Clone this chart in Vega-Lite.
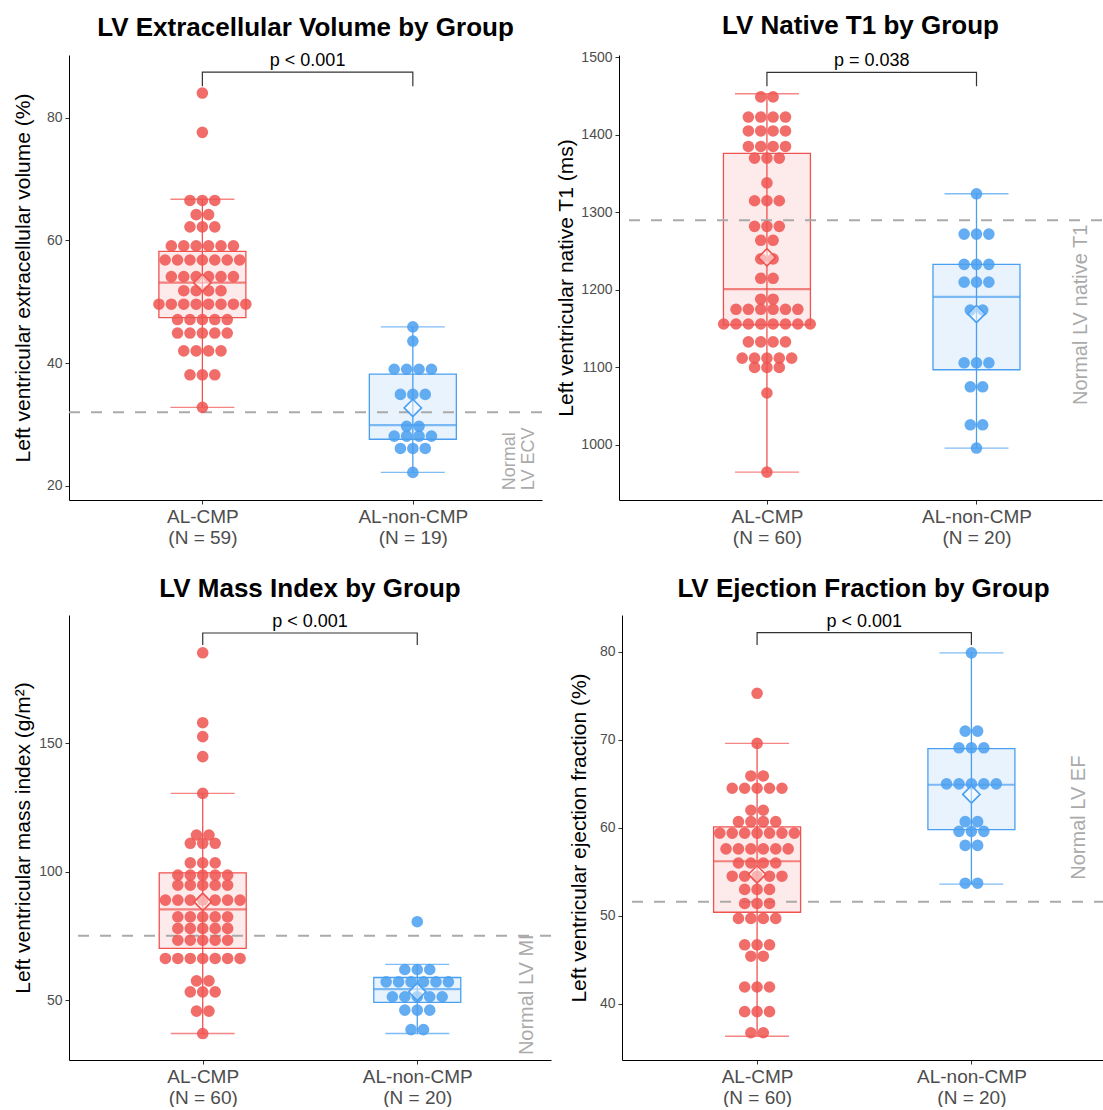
{
"$schema": "https://vega.github.io/schema/vega-lite/v6.json",
"padding": {"left": 12, "top": 13, "right": 0, "bottom": 0},
"config": {
  "view": {"stroke": null},
  "font": "Liberation Sans",
  "axis": {"grid": false, "domainColor": "#000000", "tickColor": "#333333", "labelColor": "#4D4D4D", "titleColor": "#000000", "titleFontWeight": "normal", "labelFontSize": 14, "titleFontSize": 21, "tickSize": 4, "domainWidth": 1, "labelPadding": 3, "titlePadding": 8, "format": "d"},
  "title": {"fontSize": 26, "fontWeight": "bold", "anchor": "middle", "color": "#000000", "offset": 11}
},
"datasets": {
  "p1dots": [
    {"g":1,"v":84},{"g":1,"v":77.6},
    {"g":1,"v":66.5},{"g":1,"v":66.5},{"g":1,"v":66.5},
    {"g":1,"v":64.2},{"g":1,"v":64.2},
    {"g":1,"v":62.2},{"g":1,"v":62.2},{"g":1,"v":62.2},
    {"g":1,"v":59.1},{"g":1,"v":59.1},{"g":1,"v":59.1},{"g":1,"v":59.1},{"g":1,"v":59.1},{"g":1,"v":59.1},
    {"g":1,"v":56.8},{"g":1,"v":56.8},{"g":1,"v":56.8},{"g":1,"v":56.8},{"g":1,"v":56.8},{"g":1,"v":56.8},{"g":1,"v":56.8},
    {"g":1,"v":54.1},{"g":1,"v":54.1},{"g":1,"v":54.1},{"g":1,"v":54.1},{"g":1,"v":54.1},{"g":1,"v":54.1},
    {"g":1,"v":51.8},{"g":1,"v":51.8},{"g":1,"v":51.8},{"g":1,"v":51.8},
    {"g":1,"v":49.6},{"g":1,"v":49.6},{"g":1,"v":49.6},{"g":1,"v":49.6},{"g":1,"v":49.6},{"g":1,"v":49.6},{"g":1,"v":49.6},{"g":1,"v":49.6},
    {"g":1,"v":47.1},{"g":1,"v":47.1},{"g":1,"v":47.1},{"g":1,"v":47.1},{"g":1,"v":47.1},
    {"g":1,"v":44.9},{"g":1,"v":44.9},{"g":1,"v":44.9},{"g":1,"v":44.9},{"g":1,"v":44.9},
    {"g":1,"v":42.0},{"g":1,"v":42.0},{"g":1,"v":42.0},{"g":1,"v":42.0},
    {"g":1,"v":38.1},{"g":1,"v":38.1},{"g":1,"v":38.1},
    {"g":1,"v":32.8},
    {"g":2,"v":45.9},{"g":2,"v":43.6},
    {"g":2,"v":39.0},{"g":2,"v":39.0},{"g":2,"v":39.0},{"g":2,"v":39.0},
    {"g":2,"v":34.9},{"g":2,"v":34.9},{"g":2,"v":34.9},
    {"g":2,"v":29.7},{"g":2,"v":29.7},
    {"g":2,"v":28.1},{"g":2,"v":28.1},{"g":2,"v":28.1},{"g":2,"v":28.1},
    {"g":2,"v":26.1},{"g":2,"v":26.1},{"g":2,"v":26.1},
    {"g":2,"v":22.2}
  ],
  "p1sum": [
    {"g":1,"lo":32.8,"q1":47.4,"med":53.1,"q3":58.2,"hi":66.7,"mean":53.1},
    {"g":2,"lo":22.2,"q1":27.6,"med":29.9,"q3":38.2,"hi":45.9,"mean":32.7}
  ],
  "p1ref": [{"ref": 32}],
  "p1br": [{"x":1,"y":85.1,"o":1},{"x":1,"y":87.4,"o":2},{"x":2,"y":87.4,"o":3},{"x":2,"y":85.1,"o":4}],
  "p1lab": [{"x":1.5,"y":87.4,"t":"p < 0.001"}],
  "p1note": [{"x":2.46,"y":19.3,"t":"Normal\nLV ECV"}],

  "p2dots": [
    {"g":1,"v":1449},{"g":1,"v":1449},
    {"g":1,"v":1423},{"g":1,"v":1423},{"g":1,"v":1423},{"g":1,"v":1423},
    {"g":1,"v":1405},{"g":1,"v":1405},{"g":1,"v":1405},{"g":1,"v":1405},
    {"g":1,"v":1385},{"g":1,"v":1385},{"g":1,"v":1385},{"g":1,"v":1385},
    {"g":1,"v":1370},{"g":1,"v":1370},{"g":1,"v":1370},
    {"g":1,"v":1338},
    {"g":1,"v":1315},{"g":1,"v":1315},{"g":1,"v":1315},
    {"g":1,"v":1282},{"g":1,"v":1282},{"g":1,"v":1282},
    {"g":1,"v":1264},{"g":1,"v":1264},
    {"g":1,"v":1240},{"g":1,"v":1240},
    {"g":1,"v":1215},{"g":1,"v":1215},
    {"g":1,"v":1188},{"g":1,"v":1188},
    {"g":1,"v":1175},{"g":1,"v":1175},{"g":1,"v":1175},{"g":1,"v":1175},{"g":1,"v":1175},{"g":1,"v":1175},
    {"g":1,"v":1156},{"g":1,"v":1156},{"g":1,"v":1156},{"g":1,"v":1156},{"g":1,"v":1156},{"g":1,"v":1156},{"g":1,"v":1156},{"g":1,"v":1156},
    {"g":1,"v":1133},{"g":1,"v":1133},{"g":1,"v":1133},{"g":1,"v":1133},
    {"g":1,"v":1112},{"g":1,"v":1112},{"g":1,"v":1112},{"g":1,"v":1112},{"g":1,"v":1112},
    {"g":1,"v":1100},{"g":1,"v":1100},{"g":1,"v":1100},
    {"g":1,"v":1067},
    {"g":1,"v":965},
    {"g":2,"v":1324},
    {"g":2,"v":1272},{"g":2,"v":1272},{"g":2,"v":1272},
    {"g":2,"v":1233},{"g":2,"v":1233},{"g":2,"v":1233},
    {"g":2,"v":1210},{"g":2,"v":1210},{"g":2,"v":1210},
    {"g":2,"v":1174},{"g":2,"v":1174},
    {"g":2,"v":1106},{"g":2,"v":1106},{"g":2,"v":1106},
    {"g":2,"v":1075},{"g":2,"v":1075},
    {"g":2,"v":1026},{"g":2,"v":1026},
    {"g":2,"v":996}
  ],
  "p2sum": [
    {"g":1,"lo":965,"q1":1155,"med":1201,"q3":1376,"hi":1453,"mean":1242},
    {"g":2,"lo":996,"q1":1097,"med":1191,"q3":1233,"hi":1324,"mean":1169}
  ],
  "p2ref": [{"ref": 1290}],
  "p2br": [{"x":1,"y":1462.6,"o":1},{"x":1,"y":1480.7,"o":2},{"x":2,"y":1480.7,"o":3},{"x":2,"y":1462.6,"o":4}],
  "p2lab": [{"x":1.5,"y":1480.7,"t":"p = 0.038"}],
  "p2note": [{"x":2.5,"y":1051.5,"t":"Normal LV native T1"}],

  "p3dots": [
    {"g":1,"v":185.1},{"g":1,"v":157.9},{"g":1,"v":152.5},{"g":1,"v":144.7},{"g":1,"v":130.4},
    {"g":1,"v":114.2},{"g":1,"v":114.2},
    {"g":1,"v":111},{"g":1,"v":111},{"g":1,"v":111},
    {"g":1,"v":103.4},{"g":1,"v":103.4},{"g":1,"v":103.4},
    {"g":1,"v":98.6},{"g":1,"v":98.6},{"g":1,"v":98.6},{"g":1,"v":98.6},{"g":1,"v":98.6},
    {"g":1,"v":94.7},{"g":1,"v":94.7},{"g":1,"v":94.7},{"g":1,"v":94.7},{"g":1,"v":94.7},
    {"g":1,"v":88.9},{"g":1,"v":88.9},{"g":1,"v":88.9},{"g":1,"v":88.9},{"g":1,"v":88.9},{"g":1,"v":88.9},{"g":1,"v":88.9},
    {"g":1,"v":82.4},{"g":1,"v":82.4},{"g":1,"v":82.4},{"g":1,"v":82.4},{"g":1,"v":82.4},
    {"g":1,"v":77.9},{"g":1,"v":77.9},{"g":1,"v":77.9},{"g":1,"v":77.9},{"g":1,"v":77.9},
    {"g":1,"v":73.3},{"g":1,"v":73.3},{"g":1,"v":73.3},{"g":1,"v":73.3},{"g":1,"v":73.3},
    {"g":1,"v":66.2},{"g":1,"v":66.2},{"g":1,"v":66.2},{"g":1,"v":66.2},{"g":1,"v":66.2},{"g":1,"v":66.2},{"g":1,"v":66.2},
    {"g":1,"v":57.5},{"g":1,"v":57.5},
    {"g":1,"v":53.2},{"g":1,"v":53.2},{"g":1,"v":53.2},
    {"g":1,"v":45.7},{"g":1,"v":45.7},
    {"g":1,"v":37.0},
    {"g":2,"v":80.5},
    {"g":2,"v":61.9},{"g":2,"v":61.9},{"g":2,"v":61.9},
    {"g":2,"v":57.1},{"g":2,"v":57.1},{"g":2,"v":57.1},{"g":2,"v":57.1},{"g":2,"v":57.1},{"g":2,"v":57.1},
    {"g":2,"v":51.3},{"g":2,"v":51.3},{"g":2,"v":51.3},{"g":2,"v":51.3},{"g":2,"v":51.3},
    {"g":2,"v":46.1},{"g":2,"v":46.1},{"g":2,"v":46.1},
    {"g":2,"v":38.5},{"g":2,"v":38.5}
  ],
  "p3sum": [
    {"g":1,"lo":37.0,"q1":70.1,"med":85.3,"q3":99.5,"hi":130.4,"mean":88.2},
    {"g":2,"lo":37.0,"q1":49.1,"med":54.3,"q3":58.8,"hi":63.9,"mean":53.2}
  ],
  "p3ref": [{"ref": 75}],
  "p3br": [{"x":1,"y":188.1,"o":1},{"x":1,"y":192.8,"o":2},{"x":2,"y":192.8,"o":3},{"x":2,"y":188.1,"o":4}],
  "p3lab": [{"x":1.5,"y":192.8,"t":"p < 0.001"}],
  "p3note": [{"x":2.51,"y":28.6,"t":"Normal LV MI"}],

  "p4dots": [
    {"g":1,"v":75.3},{"g":1,"v":69.6},
    {"g":1,"v":65.9},{"g":1,"v":65.9},
    {"g":1,"v":64.5},{"g":1,"v":64.5},{"g":1,"v":64.5},{"g":1,"v":64.5},{"g":1,"v":64.5},
    {"g":1,"v":62.0},{"g":1,"v":62.0},
    {"g":1,"v":60.7},{"g":1,"v":60.7},{"g":1,"v":60.7},{"g":1,"v":60.7},
    {"g":1,"v":59.4},{"g":1,"v":59.4},{"g":1,"v":59.4},{"g":1,"v":59.4},{"g":1,"v":59.4},{"g":1,"v":59.4},{"g":1,"v":59.4},
    {"g":1,"v":57.6},{"g":1,"v":57.6},{"g":1,"v":57.6},{"g":1,"v":57.6},{"g":1,"v":57.6},{"g":1,"v":57.6},
    {"g":1,"v":56.0},{"g":1,"v":56.0},{"g":1,"v":56.0},{"g":1,"v":56.0},
    {"g":1,"v":54.5},{"g":1,"v":54.5},{"g":1,"v":54.5},{"g":1,"v":54.5},{"g":1,"v":54.5},
    {"g":1,"v":53.0},{"g":1,"v":53.0},{"g":1,"v":53.0},
    {"g":1,"v":51.4},{"g":1,"v":51.4},{"g":1,"v":51.4},
    {"g":1,"v":49.7},{"g":1,"v":49.7},{"g":1,"v":49.7},{"g":1,"v":49.7},
    {"g":1,"v":46.7},{"g":1,"v":46.7},{"g":1,"v":46.7},
    {"g":1,"v":45.4},{"g":1,"v":45.4},
    {"g":1,"v":41.9},{"g":1,"v":41.9},{"g":1,"v":41.9},
    {"g":1,"v":39.1},{"g":1,"v":39.1},{"g":1,"v":39.1},
    {"g":1,"v":36.7},{"g":1,"v":36.7},
    {"g":2,"v":79.9},
    {"g":2,"v":71.0},{"g":2,"v":71.0},
    {"g":2,"v":69.1},{"g":2,"v":69.1},{"g":2,"v":69.1},
    {"g":2,"v":65.0},{"g":2,"v":65.0},{"g":2,"v":65.0},{"g":2,"v":65.0},{"g":2,"v":65.0},
    {"g":2,"v":60.7},{"g":2,"v":60.7},
    {"g":2,"v":59.6},{"g":2,"v":59.6},{"g":2,"v":59.6},
    {"g":2,"v":58.0},{"g":2,"v":58.0},
    {"g":2,"v":53.7},{"g":2,"v":53.7}
  ],
  "p4sum": [
    {"g":1,"lo":36.3,"q1":50.4,"med":56.2,"q3":60.1,"hi":69.6,"mean":54.7},
    {"g":2,"lo":53.6,"q1":59.8,"med":64.9,"q3":69.0,"hi":79.9,"mean":63.8}
  ],
  "p4ref": [{"ref": 51.6}],
  "p4br": [{"x":1,"y":80.8,"o":1},{"x":1,"y":82.2,"o":2},{"x":2,"y":82.2,"o":3},{"x":2,"y":80.8,"o":4}],
  "p4lab": [{"x":1.5,"y":82.2,"t":"p < 0.001"}],
  "p4note": [{"x":2.5,"y":54.1,"t":"Normal LV EF"}]
},
"spacing": 28,
"resolve": {"scale": {"x": "independent", "y": "independent", "color": "independent"}},
"vconcat": [
{"hconcat": [
 {
  "width": 473, "height": 445,
  "title": "LV Extracellular Volume by Group",
  "layer": [
   {"data": {"name": "p1sum"}, "mark": {"type": "rule", "strokeWidth": 1.3},
    "encoding": {
      "x": {"field": "g", "type": "quantitative", "scale": {"domain": [0.39, 2.59], "nice": false, "zero": false}, "axis": {"values": [1, 2], "title": null, "labelFontSize": 19, "labelLineHeight": 21, "labelExpr": "datum.value == 1 ? ['AL-CMP', '(N = 59)'] : ['AL-non-CMP', '(N = 19)']"}},
      "y": {"field": "lo", "type": "quantitative", "title": "Left ventricular extracellular volume (%)", "scale": {"domain": [17.7, 90.2], "nice": false, "zero": false}, "axis": {"values": [20, 40, 60, 80], "titlePadding": 13}},
      "y2": {"field": "hi"},
      "color": {"field": "g", "type": "nominal", "scale": {"domain": [1, 2], "range": ["#EF5350", "#4A9FF0"]}, "legend": null}}},
   {"data": {"name": "p1sum"}, "mark": {"type": "tick", "orient": "horizontal", "size": 64, "thickness": 1.3},
    "encoding": {"x": {"field": "g", "type": "quantitative"}, "y": {"field": "hi", "type": "quantitative", "title": "Left ventricular extracellular volume (%)"}, "color": {"field": "g", "type": "nominal", "legend": null}}},
   {"data": {"name": "p1sum"}, "mark": {"type": "tick", "orient": "horizontal", "size": 64, "thickness": 1.3},
    "encoding": {"x": {"field": "g", "type": "quantitative"}, "y": {"field": "lo", "type": "quantitative", "title": "Left ventricular extracellular volume (%)"}, "color": {"field": "g", "type": "nominal", "legend": null}}},
   {"data": {"name": "p1sum"}, "mark": {"type": "bar", "size": 87, "fillOpacity": 0.12, "strokeWidth": 1.3},
    "encoding": {"x": {"field": "g", "type": "quantitative"}, "y": {"field": "q1", "type": "quantitative", "title": "Left ventricular extracellular volume (%)"}, "y2": {"field": "q3"}, "fill": {"field": "g", "type": "nominal", "scale": {"domain": [1, 2], "range": ["#EF5350", "#4A9FF0"]}, "legend": null}, "stroke": {"field": "g", "type": "nominal", "scale": {"domain": [1, 2], "range": ["#EF5350", "#4A9FF0"]}, "legend": null}}},
   {"data": {"name": "p1sum"}, "mark": {"type": "tick", "orient": "horizontal", "size": 87, "thickness": 2.2},
    "encoding": {"x": {"field": "g", "type": "quantitative"}, "y": {"field": "med", "type": "quantitative", "title": "Left ventricular extracellular volume (%)"}, "color": {"field": "g", "type": "nominal", "legend": null}}},
   {"data": {"name": "p1ref"}, "mark": {"type": "rule", "color": "#AAAAAA", "strokeWidth": 2, "strokeDash": [11, 11]},
    "encoding": {"y": {"field": "ref", "type": "quantitative", "title": "Left ventricular extracellular volume (%)"}}},
   {"data": {"name": "p1dots"},
    "transform": [
      {"window": [{"op": "row_number", "as": "k"}], "groupby": ["g", "v"]},
      {"joinaggregate": [{"op": "count", "as": "n"}], "groupby": ["g", "v"]},
      {"calculate": "datum.g + (datum.k - (datum.n + 1) / 2) * 0.059", "as": "xo"}],
    "mark": {"type": "circle", "size": 135, "opacity": 0.85},
    "encoding": {"x": {"field": "xo", "type": "quantitative"}, "y": {"field": "v", "type": "quantitative", "title": "Left ventricular extracellular volume (%)"}, "color": {"field": "g", "type": "nominal", "legend": null}}},
   {"data": {"name": "p1sum"}, "mark": {"type": "point", "shape": "diamond", "size": 300, "filled": false, "fill": "white", "fillOpacity": 0.5, "strokeWidth": 1.6, "opacity": 1},
    "encoding": {"x": {"field": "g", "type": "quantitative"}, "y": {"field": "mean", "type": "quantitative", "title": "Left ventricular extracellular volume (%)"}, "stroke": {"field": "g", "type": "nominal", "legend": null}}},
   {"data": {"name": "p1br"}, "mark": {"type": "line", "color": "#333333", "strokeWidth": 1.2},
    "encoding": {"x": {"field": "x", "type": "quantitative"}, "y": {"field": "y", "type": "quantitative", "title": "Left ventricular extracellular volume (%)"}, "order": {"field": "o"}}},
   {"data": {"name": "p1lab"}, "mark": {"type": "text", "fontSize": 18, "baseline": "bottom", "dy": -2, "color": "#000000"},
    "encoding": {"x": {"field": "x", "type": "quantitative"}, "y": {"field": "y", "type": "quantitative", "title": "Left ventricular extracellular volume (%)"}, "text": {"field": "t"}}},
   {"data": {"name": "p1note"}, "mark": {"type": "text", "fontSize": 18, "angle": 270, "align": "left", "baseline": "middle", "color": "#AAAAAA", "lineBreak": "\n", "lineHeight": 19},
    "encoding": {"x": {"field": "x", "type": "quantitative"}, "y": {"field": "y", "type": "quantitative", "title": "Left ventricular extracellular volume (%)"}, "text": {"field": "t"}}}
  ]
 },
 {
  "width": 483, "height": 445,
  "title": "LV Native T1 by Group",
  "layer": [
   {"data": {"name": "p2sum"}, "mark": {"type": "rule", "strokeWidth": 1.3},
    "encoding": {
      "x": {"field": "g", "type": "quantitative", "scale": {"domain": [0.318, 2.575], "nice": false, "zero": false}, "axis": {"values": [1, 2], "title": null, "labelFontSize": 19, "labelLineHeight": 21, "labelExpr": "datum.value == 1 ? ['AL-CMP', '(N = 60)'] : ['AL-non-CMP', '(N = 20)']"}},
      "y": {"field": "lo", "type": "quantitative", "title": "Left ventricular native T1 (ms)", "scale": {"domain": [929, 1503], "nice": false, "zero": false}, "axis": {"values": [1000, 1100, 1200, 1300, 1400, 1500], "titlePadding": 4}},
      "y2": {"field": "hi"},
      "color": {"field": "g", "type": "nominal", "scale": {"domain": [1, 2], "range": ["#EF5350", "#4A9FF0"]}, "legend": null}}},
   {"data": {"name": "p2sum"}, "mark": {"type": "tick", "orient": "horizontal", "size": 64, "thickness": 1.3},
    "encoding": {"x": {"field": "g", "type": "quantitative"}, "y": {"field": "hi", "type": "quantitative", "title": "Left ventricular native T1 (ms)"}, "color": {"field": "g", "type": "nominal", "legend": null}}},
   {"data": {"name": "p2sum"}, "mark": {"type": "tick", "orient": "horizontal", "size": 64, "thickness": 1.3},
    "encoding": {"x": {"field": "g", "type": "quantitative"}, "y": {"field": "lo", "type": "quantitative", "title": "Left ventricular native T1 (ms)"}, "color": {"field": "g", "type": "nominal", "legend": null}}},
   {"data": {"name": "p2sum"}, "mark": {"type": "bar", "size": 87, "fillOpacity": 0.12, "strokeWidth": 1.3},
    "encoding": {"x": {"field": "g", "type": "quantitative"}, "y": {"field": "q1", "type": "quantitative", "title": "Left ventricular native T1 (ms)"}, "y2": {"field": "q3"}, "fill": {"field": "g", "type": "nominal", "scale": {"domain": [1, 2], "range": ["#EF5350", "#4A9FF0"]}, "legend": null}, "stroke": {"field": "g", "type": "nominal", "scale": {"domain": [1, 2], "range": ["#EF5350", "#4A9FF0"]}, "legend": null}}},
   {"data": {"name": "p2sum"}, "mark": {"type": "tick", "orient": "horizontal", "size": 87, "thickness": 2.2},
    "encoding": {"x": {"field": "g", "type": "quantitative"}, "y": {"field": "med", "type": "quantitative", "title": "Left ventricular native T1 (ms)"}, "color": {"field": "g", "type": "nominal", "legend": null}}},
   {"data": {"name": "p2ref"}, "mark": {"type": "rule", "color": "#AAAAAA", "strokeWidth": 2, "strokeDash": [11, 11]},
    "encoding": {"y": {"field": "ref", "type": "quantitative", "title": "Left ventricular native T1 (ms)"}}},
   {"data": {"name": "p2dots"},
    "transform": [
      {"window": [{"op": "row_number", "as": "k"}], "groupby": ["g", "v"]},
      {"joinaggregate": [{"op": "count", "as": "n"}], "groupby": ["g", "v"]},
      {"calculate": "datum.g + (datum.k - (datum.n + 1) / 2) * 0.059", "as": "xo"}],
    "mark": {"type": "circle", "size": 135, "opacity": 0.85},
    "encoding": {"x": {"field": "xo", "type": "quantitative"}, "y": {"field": "v", "type": "quantitative", "title": "Left ventricular native T1 (ms)"}, "color": {"field": "g", "type": "nominal", "legend": null}}},
   {"data": {"name": "p2sum"}, "mark": {"type": "point", "shape": "diamond", "size": 300, "filled": false, "fill": "white", "fillOpacity": 0.5, "strokeWidth": 1.6, "opacity": 1},
    "encoding": {"x": {"field": "g", "type": "quantitative"}, "y": {"field": "mean", "type": "quantitative", "title": "Left ventricular native T1 (ms)"}, "stroke": {"field": "g", "type": "nominal", "legend": null}}},
   {"data": {"name": "p2br"}, "mark": {"type": "line", "color": "#333333", "strokeWidth": 1.2},
    "encoding": {"x": {"field": "x", "type": "quantitative"}, "y": {"field": "y", "type": "quantitative", "title": "Left ventricular native T1 (ms)"}, "order": {"field": "o"}}},
   {"data": {"name": "p2lab"}, "mark": {"type": "text", "fontSize": 18, "baseline": "bottom", "dy": -2, "color": "#000000"},
    "encoding": {"x": {"field": "x", "type": "quantitative"}, "y": {"field": "y", "type": "quantitative", "title": "Left ventricular native T1 (ms)"}, "text": {"field": "t"}}},
   {"data": {"name": "p2note"}, "mark": {"type": "text", "fontSize": 20, "angle": 270, "align": "left", "baseline": "middle", "color": "#AAAAAA"},
    "encoding": {"x": {"field": "x", "type": "quantitative"}, "y": {"field": "y", "type": "quantitative", "title": "Left ventricular native T1 (ms)"}, "text": {"field": "t"}}}
  ]
 }
], "spacing": 12, "resolve": {"scale": {"x": "independent", "y": "independent", "color": "independent"}}},
{"hconcat": [
 {
  "width": 482, "height": 445,
  "title": "LV Mass Index by Group",
  "layer": [
   {"data": {"name": "p3sum"}, "mark": {"type": "rule", "strokeWidth": 1.3},
    "encoding": {
      "x": {"field": "g", "type": "quantitative", "scale": {"domain": [0.4, 2.6], "nice": false, "zero": false}, "axis": {"values": [1, 2], "title": null, "labelFontSize": 19, "labelLineHeight": 21, "labelExpr": "datum.value == 1 ? ['AL-CMP', '(N = 60)'] : ['AL-non-CMP', '(N = 20)']"}},
      "y": {"field": "lo", "type": "quantitative", "title": "Left ventricular mass index (g/m²)", "scale": {"domain": [26.7, 199.8], "nice": false, "zero": false}, "axis": {"values": [50, 100, 150], "titlePadding": 5}},
      "y2": {"field": "hi"},
      "color": {"field": "g", "type": "nominal", "scale": {"domain": [1, 2], "range": ["#EF5350", "#4A9FF0"]}, "legend": null}}},
   {"data": {"name": "p3sum"}, "mark": {"type": "tick", "orient": "horizontal", "size": 64, "thickness": 1.3},
    "encoding": {"x": {"field": "g", "type": "quantitative"}, "y": {"field": "hi", "type": "quantitative", "title": "Left ventricular mass index (g/m²)"}, "color": {"field": "g", "type": "nominal", "legend": null}}},
   {"data": {"name": "p3sum"}, "mark": {"type": "tick", "orient": "horizontal", "size": 64, "thickness": 1.3},
    "encoding": {"x": {"field": "g", "type": "quantitative"}, "y": {"field": "lo", "type": "quantitative", "title": "Left ventricular mass index (g/m²)"}, "color": {"field": "g", "type": "nominal", "legend": null}}},
   {"data": {"name": "p3sum"}, "mark": {"type": "bar", "size": 87, "fillOpacity": 0.12, "strokeWidth": 1.3},
    "encoding": {"x": {"field": "g", "type": "quantitative"}, "y": {"field": "q1", "type": "quantitative", "title": "Left ventricular mass index (g/m²)"}, "y2": {"field": "q3"}, "fill": {"field": "g", "type": "nominal", "scale": {"domain": [1, 2], "range": ["#EF5350", "#4A9FF0"]}, "legend": null}, "stroke": {"field": "g", "type": "nominal", "scale": {"domain": [1, 2], "range": ["#EF5350", "#4A9FF0"]}, "legend": null}}},
   {"data": {"name": "p3sum"}, "mark": {"type": "tick", "orient": "horizontal", "size": 87, "thickness": 2.2},
    "encoding": {"x": {"field": "g", "type": "quantitative"}, "y": {"field": "med", "type": "quantitative", "title": "Left ventricular mass index (g/m²)"}, "color": {"field": "g", "type": "nominal", "legend": null}}},
   {"data": {"name": "p3ref"}, "mark": {"type": "rule", "color": "#AAAAAA", "strokeWidth": 2, "strokeDash": [11, 11]},
    "encoding": {"y": {"field": "ref", "type": "quantitative", "title": "Left ventricular mass index (g/m²)"}}},
   {"data": {"name": "p3dots"},
    "transform": [
      {"window": [{"op": "row_number", "as": "k"}], "groupby": ["g", "v"]},
      {"joinaggregate": [{"op": "count", "as": "n"}], "groupby": ["g", "v"]},
      {"calculate": "datum.g + (datum.k - (datum.n + 1) / 2) * 0.058", "as": "xo"}],
    "mark": {"type": "circle", "size": 135, "opacity": 0.85},
    "encoding": {"x": {"field": "xo", "type": "quantitative"}, "y": {"field": "v", "type": "quantitative", "title": "Left ventricular mass index (g/m²)"}, "color": {"field": "g", "type": "nominal", "legend": null}}},
   {"data": {"name": "p3sum"}, "mark": {"type": "point", "shape": "diamond", "size": 300, "filled": false, "fill": "white", "fillOpacity": 0.5, "strokeWidth": 1.6, "opacity": 1},
    "encoding": {"x": {"field": "g", "type": "quantitative"}, "y": {"field": "mean", "type": "quantitative", "title": "Left ventricular mass index (g/m²)"}, "stroke": {"field": "g", "type": "nominal", "legend": null}}},
   {"data": {"name": "p3br"}, "mark": {"type": "line", "color": "#333333", "strokeWidth": 1.2},
    "encoding": {"x": {"field": "x", "type": "quantitative"}, "y": {"field": "y", "type": "quantitative", "title": "Left ventricular mass index (g/m²)"}, "order": {"field": "o"}}},
   {"data": {"name": "p3lab"}, "mark": {"type": "text", "fontSize": 18, "baseline": "bottom", "dy": -2, "color": "#000000"},
    "encoding": {"x": {"field": "x", "type": "quantitative"}, "y": {"field": "y", "type": "quantitative", "title": "Left ventricular mass index (g/m²)"}, "text": {"field": "t"}}},
   {"data": {"name": "p3note"}, "mark": {"type": "text", "fontSize": 20, "angle": 270, "align": "left", "baseline": "middle", "color": "#AAAAAA"},
    "encoding": {"x": {"field": "x", "type": "quantitative"}, "y": {"field": "y", "type": "quantitative", "title": "Left ventricular mass index (g/m²)"}, "text": {"field": "t"}}}
  ]
 },
 {
  "width": 483, "height": 445,
  "title": "LV Ejection Fraction by Group",
  "layer": [
   {"data": {"name": "p4sum"}, "mark": {"type": "rule", "strokeWidth": 1.3},
    "encoding": {
      "x": {"field": "g", "type": "quantitative", "scale": {"domain": [0.393, 2.6], "nice": false, "zero": false}, "axis": {"values": [1, 2], "title": null, "labelFontSize": 19, "labelLineHeight": 21, "labelExpr": "datum.value == 1 ? ['AL-CMP', '(N = 60)'] : ['AL-non-CMP', '(N = 20)']"}},
      "y": {"field": "lo", "type": "quantitative", "title": "Left ventricular ejection fraction (%)", "scale": {"domain": [33.6, 84.2], "nice": false, "zero": false}, "axis": {"values": [40, 50, 60, 70, 80], "titlePadding": 10}},
      "y2": {"field": "hi"},
      "color": {"field": "g", "type": "nominal", "scale": {"domain": [1, 2], "range": ["#EF5350", "#4A9FF0"]}, "legend": null}}},
   {"data": {"name": "p4sum"}, "mark": {"type": "tick", "orient": "horizontal", "size": 64, "thickness": 1.3},
    "encoding": {"x": {"field": "g", "type": "quantitative"}, "y": {"field": "hi", "type": "quantitative", "title": "Left ventricular ejection fraction (%)"}, "color": {"field": "g", "type": "nominal", "legend": null}}},
   {"data": {"name": "p4sum"}, "mark": {"type": "tick", "orient": "horizontal", "size": 64, "thickness": 1.3},
    "encoding": {"x": {"field": "g", "type": "quantitative"}, "y": {"field": "lo", "type": "quantitative", "title": "Left ventricular ejection fraction (%)"}, "color": {"field": "g", "type": "nominal", "legend": null}}},
   {"data": {"name": "p4sum"}, "mark": {"type": "bar", "size": 87, "fillOpacity": 0.12, "strokeWidth": 1.3},
    "encoding": {"x": {"field": "g", "type": "quantitative"}, "y": {"field": "q1", "type": "quantitative", "title": "Left ventricular ejection fraction (%)"}, "y2": {"field": "q3"}, "fill": {"field": "g", "type": "nominal", "scale": {"domain": [1, 2], "range": ["#EF5350", "#4A9FF0"]}, "legend": null}, "stroke": {"field": "g", "type": "nominal", "scale": {"domain": [1, 2], "range": ["#EF5350", "#4A9FF0"]}, "legend": null}}},
   {"data": {"name": "p4sum"}, "mark": {"type": "tick", "orient": "horizontal", "size": 87, "thickness": 2.2},
    "encoding": {"x": {"field": "g", "type": "quantitative"}, "y": {"field": "med", "type": "quantitative", "title": "Left ventricular ejection fraction (%)"}, "color": {"field": "g", "type": "nominal", "legend": null}}},
   {"data": {"name": "p4ref"}, "mark": {"type": "rule", "color": "#AAAAAA", "strokeWidth": 2, "strokeDash": [11, 11]},
    "encoding": {"y": {"field": "ref", "type": "quantitative", "title": "Left ventricular ejection fraction (%)"}}},
   {"data": {"name": "p4dots"},
    "transform": [
      {"window": [{"op": "row_number", "as": "k"}], "groupby": ["g", "v"]},
      {"joinaggregate": [{"op": "count", "as": "n"}], "groupby": ["g", "v"]},
      {"calculate": "datum.g + (datum.k - (datum.n + 1) / 2) * 0.058", "as": "xo"}],
    "mark": {"type": "circle", "size": 135, "opacity": 0.85},
    "encoding": {"x": {"field": "xo", "type": "quantitative"}, "y": {"field": "v", "type": "quantitative", "title": "Left ventricular ejection fraction (%)"}, "color": {"field": "g", "type": "nominal", "legend": null}}},
   {"data": {"name": "p4sum"}, "mark": {"type": "point", "shape": "diamond", "size": 300, "filled": false, "fill": "white", "fillOpacity": 0.5, "strokeWidth": 1.6, "opacity": 1},
    "encoding": {"x": {"field": "g", "type": "quantitative"}, "y": {"field": "mean", "type": "quantitative", "title": "Left ventricular ejection fraction (%)"}, "stroke": {"field": "g", "type": "nominal", "legend": null}}},
   {"data": {"name": "p4br"}, "mark": {"type": "line", "color": "#333333", "strokeWidth": 1.2},
    "encoding": {"x": {"field": "x", "type": "quantitative"}, "y": {"field": "y", "type": "quantitative", "title": "Left ventricular ejection fraction (%)"}, "order": {"field": "o"}}},
   {"data": {"name": "p4lab"}, "mark": {"type": "text", "fontSize": 18, "baseline": "bottom", "dy": -2, "color": "#000000"},
    "encoding": {"x": {"field": "x", "type": "quantitative"}, "y": {"field": "y", "type": "quantitative", "title": "Left ventricular ejection fraction (%)"}, "text": {"field": "t"}}},
   {"data": {"name": "p4note"}, "mark": {"type": "text", "fontSize": 20, "angle": 270, "align": "left", "baseline": "middle", "color": "#AAAAAA"},
    "encoding": {"x": {"field": "x", "type": "quantitative"}, "y": {"field": "y", "type": "quantitative", "title": "Left ventricular ejection fraction (%)"}, "text": {"field": "t"}}}
  ]
 }
], "spacing": 16, "resolve": {"scale": {"x": "independent", "y": "independent", "color": "independent"}}}
]
}
